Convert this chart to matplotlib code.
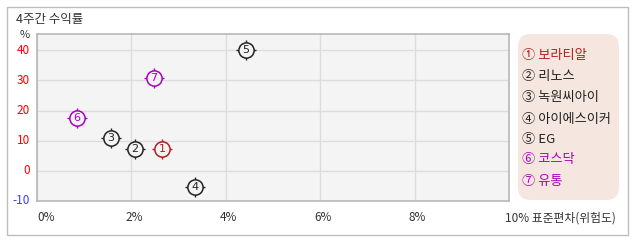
import matplotlib
matplotlib.use("Agg")
import matplotlib.pyplot as plt
from matplotlib.patches import Rectangle, FancyBboxPatch

plt.rcParams['font.family'] = ['Noto Sans CJK KR', 'DejaVu Sans']

# ---- data ----
names = ["보라티알", "리노스", "녹원씨아이", "아이에스이커", "EG", "코스닥", "유통"]
risk = [2.65, 2.07, 1.57, 3.35, 4.43, 0.85, 2.48]       # 표준편차 (%)
ret = [7.3, 7.3, 11.0, -5.2, 40.0, 17.6, 30.9]          # 4주간 수익률 (%)
circled = ["①", "②", "③", "④", "⑤", "⑥", "⑦"]
nums = ["1", "2", "3", "4", "5", "6", "7"]
colors = ["#b01e1e", "#222222", "#222222", "#222222", "#222222", "#a800c0", "#a800c0"]
yticks = [-10, 0, 10, 20, 30, 40]
ytick_colors = ["#3c3cff", "#ff0000", "#ff0000", "#ff0000", "#ff0000", "#ff0000"]
xticks = [0, 2, 4, 6, 8, 10]
xtick_labels = ["0%", "2%", "4%", "6%", "8%", "10% 표준편차(위험도)"]

W, H = 638, 242
fig = plt.figure(figsize=(W / 100, H / 100), dpi=100)
fig.patch.set_facecolor("white")

def fx(px):
    return px / W

def fy(py):
    return 1 - py / H

# outer border
fig.patches.append(Rectangle((fx(6.5), fy(235)), fx(621), (235 - 7) / H,
                             transform=fig.transFigure, fill=False,
                             edgecolor="#bdbdbd", linewidth=1))

# axes
ax = fig.add_axes([fx(37), fy(201), fx(509 - 37), (201 - 34) / H])
ax.set_facecolor("#f4f4f4")
ax.set_xlim(0, 10)
ax.set_ylim(-10, 45.4)
for s in ax.spines.values():
    s.set_color("#b8b8b8")
    s.set_linewidth(1.2)
ax.set_xticks(xticks)
ax.set_yticks(yticks)
ax.grid(True, color="#dcdcdc", linewidth=1)
ax.set_axisbelow(True)
ax.tick_params(length=0, labelleft=False, labelbottom=False)

# y tick labels
for v, c in zip(yticks, ytick_colors):
    ax.annotate(str(v), xy=(0, v), xycoords=("axes fraction", "data"),
                xytext=(-5, 0), textcoords="offset points",
                ha="right", va="center", fontsize=8.5, color=c)
# x tick labels
for v, lab in zip(xticks, xtick_labels):
    ha = "center"
    dx = 2
    if v == 0:
        ha, dx = "left", 0
    if v == 10:
        ha, dx = "left", -3
    ax.annotate(lab, xy=(v, 0), xycoords=("data", "axes fraction"),
                xytext=(dx, -12), textcoords="offset points",
                ha=ha, va="center", fontsize=8.5, color="#333333")

# markers
for x, y, n, c in zip(risk, ret, nums, colors):
    ax.plot([x], [y], marker="+", markersize=15, markeredgewidth=1.0,
            color=c, linestyle="none", zorder=3)
    ax.plot([x], [y], marker="o", markersize=11, markerfacecolor="#f4f4f4",
            markeredgecolor=c, markeredgewidth=1.1, linestyle="none", zorder=4)
    ax.text(x, y, n, ha="center", va="center", fontsize=8, color=c,
            zorder=5, family=["DejaVu Sans"])

# title and unit
fig.text(fx(16), fy(20), "4주간 수익률", fontsize=9, color="#333333",
         ha="left", va="center")
fig.text(fx(25), fy(35), "%", fontsize=8, color="#333333", ha="center", va="center")

# legend box
fig.patches.append(FancyBboxPatch((fx(518), fy(200)), fx(619 - 518), (200 - 34) / H,
                                  boxstyle="round,pad=0,rounding_size=0.02",
                                  transform=fig.transFigure,
                                  facecolor="#f5e7e0", edgecolor="none",
                                  mutation_aspect=W / H))
leg_y = [56, 77, 98, 119, 139, 160, 181]
for ly, cc, nm, c in zip(leg_y, circled, names, colors):
    fig.text(fx(522), fy(ly), cc + " " + nm, fontsize=9.5, color=c,
             ha="left", va="center")

fig.savefig("out.png", dpi=100)
